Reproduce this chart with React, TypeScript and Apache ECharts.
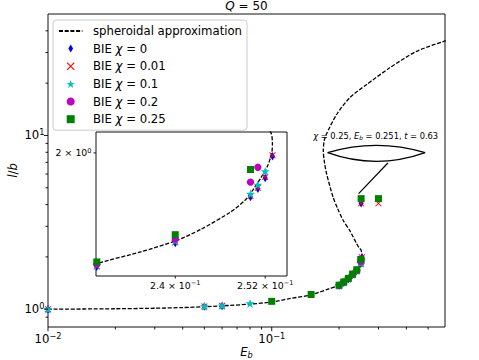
import React, { useEffect, useRef } from 'react';
import * as echarts from 'echarts';

const FONT = 'DejaVu Sans';

// spheroidal approximation: [E_b, l/b]
const spheroidalCurve: number[][] = [
  [0.01, 1.0], [0.02, 1.006], [0.03, 1.013], [0.04, 1.022], [0.05, 1.033], [0.06, 1.045],
  [0.08, 1.07], [0.1, 1.1], [0.12, 1.15], [0.15, 1.21], [0.18, 1.31], [0.2, 1.375],
  [0.215, 1.47], [0.2302, 1.59], [0.23564, 1.6286], [0.23998, 1.6646], [0.24335, 1.7057],
  [0.2473, 1.7683], [0.24929, 1.8131], [0.25036, 1.8533], [0.25144, 1.9002], [0.25238, 1.9504],
  [0.25292, 2.0043], [0.25299, 2.0423], [0.25279, 2.0853], [0.2505, 2.2], [0.246, 2.25],
  [0.239, 2.4], [0.2245, 2.8], [0.2085, 3.25], [0.197, 3.8], [0.188, 4.42], [0.1757, 6.05],
  [0.1715, 7.2], [0.17, 8.2], [0.1715, 9.3], [0.1757, 10.2], [0.195, 13.2], [0.2234, 16.5],
  [0.265, 19.6], [0.337, 24.5], [0.444, 30.5], [0.6, 35.1],
];

// BIE results: [E_b, l/b]
const bieChi0: number[][] = [
  [0.01, 1.0], [0.05, 1.035], [0.06, 1.045], [0.2, 1.365], [0.21, 1.42], [0.22, 1.49],
  [0.23, 1.578], [0.24, 1.658], [0.25, 1.825], [0.251, 1.856], [0.252, 1.898], [0.253, 1.986],
  [0.251, 4.07],
];
const bieChi001: number[][] = [
  [0.01, 1.0], [0.05, 1.037], [0.06, 1.047], [0.2, 1.368], [0.21, 1.425], [0.22, 1.495],
  [0.23, 1.58], [0.24, 1.66], [0.25, 1.828], [0.251, 1.86], [0.252, 1.902], [0.253, 1.99],
  [0.251, 4.07], [0.3, 4.07],
];
const bieChi01: number[][] = [
  [0.01, 1.0], [0.05, 1.04], [0.06, 1.05], [0.08, 1.08], [0.2, 1.37], [0.21, 1.43], [0.22, 1.5],
  [0.23, 1.583], [0.24, 1.665], [0.25, 1.837], [0.251, 1.872], [0.252, 1.925],
];
const bieChi02: number[][] = [
  [0.2, 1.372], [0.21, 1.432], [0.22, 1.502], [0.23, 1.586], [0.24, 1.672], [0.25, 1.882], [0.251, 1.941],
];
const bieChi025: number[][] = [
  [0.1, 1.11], [0.15, 1.215], [0.2, 1.375], [0.21, 1.435], [0.22, 1.505], [0.23, 1.594],
  [0.24, 1.687], [0.25, 1.932], [0.251, 4.33], [0.3, 4.33],
];

const curveName = 'spheroidal approximation';
const bieNames = ['BIE χ = 0', 'BIE χ = 0.01', 'BIE χ = 0.1', 'BIE χ = 0.2', 'BIE χ = 0.25'];

const xMajorTicks = [0.01, 0.1];
const xMinorTicks = [0.02, 0.03, 0.04, 0.05, 0.06, 0.07, 0.08, 0.09, 0.2, 0.3, 0.4, 0.5];
const yMajorTicks = [1, 10];
const yMinorTicks = [0.9, 2, 3, 4, 5, 6, 7, 8, 9, 20, 30, 40];
const insetXTicks = [0.24, 0.252];
const insetXTickLabels = ['2.4 × 10^−1', '2.52 × 10^−1'];
const insetYTicks = [2];
const insetYTickLabels = ['2 × 10^0'];

const annotatedPoint = [0.251, 4.33];
const annotationText = '{i|χ} = 0.25, {i|E}{sub|b} = 0.251, {i|t} = 0.63';
const titleText = '{i|Q} = 50';

const DIAMOND = 'path://M3,0L6,5L3,10L0,5Z';
const CROSS = 'path://M1,0L10,9L9,10L0,1ZM9,0L10,1L1,10L0,9Z';
const STAR =
  'path://M10,0L12.245,6.91L19.511,6.91L13.633,11.18L15.878,18.09L10,13.82L4.122,18.09L6.367,11.18L0.489,6.91L7.755,6.91Z';
const SQUARE = 'path://M0,0L10,0L10,10L0,10Z';

const bieStyles = [
  { symbol: DIAMOND, size: [5, 8.5], color: '#0000ff' },
  { symbol: CROSS, size: 6.5, color: '#ff0000' },
  { symbol: STAR, size: 9, color: '#00bfbf' },
  { symbol: 'circle', size: 7.3, color: '#bf00bf' },
  { symbol: SQUARE, size: 7, color: '#008000' },
];
const bieData = [bieChi0, bieChi001, bieChi01, bieChi02, bieChi025];

function rich(fs: number) {
  const lh = fs * 1.2;
  return {
    i: { fontFamily: FONT, fontSize: fs, fontStyle: 'italic', lineHeight: lh, color: '#000', fill: '#000' },
    s: { fontFamily: FONT, fontSize: fs * 0.7, lineHeight: fs * 0.79, verticalAlign: 'top', color: '#000', fill: '#000' },
    sub: {
      fontFamily: FONT, fontSize: fs * 0.7, lineHeight: fs * 0.61, verticalAlign: 'bottom',
      fontStyle: 'italic', color: '#000', fill: '#000',
    },
  };
}

const toRich = (s: string) => s.replace(/\^(\S+)/, '{s|$1}');

const powLabel = (v: number) => {
  const e = Math.log10(v);
  const r = Math.round(e);
  if (Math.abs(e - r) > 1e-6) return '';
  return '10{s|' + (r < 0 ? '−' + -r : String(r)) + '}';
};

function tickSeries(values: number[], dim: 'x' | 'y', len: number, axisIndex: number, labels?: string[], fs = 9.4) {
  return {
    type: 'custom',
    xAxisIndex: axisIndex,
    yAxisIndex: axisIndex,
    silent: true,
    clip: false,
    z: 10,
    data: values.map((v) => [v, v]),
    renderItem: (params: any, api: any) => {
      const cs = params.coordSys;
      const children: any[] = [];
      const textStyle = (text: string, align: string) => ({
        text: toRich(text), align, verticalAlign: 'middle', fontFamily: FONT, fontSize: fs,
        lineHeight: fs * 1.2, fill: '#000', rich: rich(fs),
      });
      if (dim === 'x') {
        const v = api.value(0);
        const x = api.coord([v, api.value(1)])[0];
        const y0 = cs.y + cs.height;
        children.push({ type: 'line', shape: { x1: x, y1: y0, x2: x, y2: y0 + len }, style: { stroke: '#000', lineWidth: 0.9 } });
        if (labels) children.push({ type: 'text', x, y: y0 + len + 7, style: textStyle(labels[params.dataIndex], 'center') });
      } else {
        const v = api.value(1);
        const y = api.coord([api.value(0), v])[1];
        const x0 = cs.x;
        children.push({ type: 'line', shape: { x1: x0 - len, y1: y, x2: x0, y2: y }, style: { stroke: '#000', lineWidth: 0.9 } });
        if (labels) children.push({ type: 'text', x: x0 - len - 2, y, style: textStyle(labels[params.dataIndex], 'right') });
      }
      return { type: 'group', children };
    },
  };
}

export default function App() {
  const ref = useRef<HTMLDivElement>(null);
  useEffect(() => {
    if (!ref.current) return;
    const chart = echarts.init(ref.current, undefined, { renderer: 'svg' });
    const axisLabelBase = {
      fontFamily: FONT, fontSize: 11.7, lineHeight: 14, color: '#000', rich: rich(11.7),
    };
    const hidden = {
      axisLine: { show: false }, axisTick: { show: false }, splitLine: { show: false }, minorTick: { show: false },
    };
    const mainScatter = bieData.map((d, k) => ({
      type: 'scatter', name: bieNames[k], xAxisIndex: 0, yAxisIndex: 0, data: d,
      symbol: bieStyles[k].symbol, symbolSize: bieStyles[k].size,
      itemStyle: { color: bieStyles[k].color, opacity: 1 },
      z: 3,
    }));
    const insetScatter = bieData.map((d, k) => ({
      type: 'scatter', name: bieNames[k] + ' (inset)', xAxisIndex: 1, yAxisIndex: 1, data: d,
      symbol: bieStyles[k].symbol, symbolSize: bieStyles[k].size,
      itemStyle: { color: bieStyles[k].color, opacity: 1 }, clip: true,
      z: 3,
    }));
    const lineStyle = { color: '#000', width: 1.3, type: [4, 1.7] };
    const option: any = {
      animation: false,
      backgroundColor: '#fff',
      title: {
        text: titleText, left: 246.5, top: -1, textAlign: 'center', padding: 0,
        textStyle: { fontFamily: FONT, fontSize: 12, fontWeight: 'normal', color: '#000', lineHeight: 14.4, rich: rich(12) },
      },
      legend: {
        data: [{ name: curveName, itemStyle: { opacity: 0 } }, ...bieNames],
        orient: 'vertical', left: 53, top: 20, padding: [4, 5, 4, 5], itemGap: 3.6,
        itemWidth: 23.4, itemHeight: 8,
        backgroundColor: 'rgba(255,255,255,0.8)', borderColor: '#cccccc', borderWidth: 1, borderRadius: 3,
        selectedMode: false, z: 20,
        formatter: (n: string) => n.replace('χ', '{i|χ}'),
        textStyle: { fontFamily: FONT, fontSize: 11.7, lineHeight: 14, color: '#000', padding: [0, 0, 0, 5.6], rich: rich(11.7) },
      },
      grid: [
        {
          left: 48, top: 14, width: 397, height: 313, show: true, borderColor: '#111', borderWidth: 1,
          backgroundColor: 'transparent', containLabel: false, outerBoundsMode: 'none',
        },
        {
          left: 96, top: 132, width: 191, height: 144, show: true, borderColor: '#111', borderWidth: 1,
          backgroundColor: '#fff', containLabel: false, outerBoundsMode: 'none',
        },
      ],
      xAxis: [
        {
          type: 'log', logBase: 10, gridIndex: 0, min: 0.01, max: 0.595, ...hidden,
          axisLabel: { ...axisLabelBase, formatter: powLabel, margin: 5 },
          name: '{i|E}{sub|b}', nameLocation: 'middle', nameGap: 17.5, nameMoveOverlap: false,
          nameTextStyle: { ...axisLabelBase },
        },
        {
          type: 'log', logBase: 10, gridIndex: 1, min: 0.2299, max: 0.255, ...hidden,
          axisLabel: { show: false },
        },
      ],
      yAxis: [
        {
          type: 'log', logBase: 10, gridIndex: 0, min: 0.79, max: 50, ...hidden,
          axisLabel: { ...axisLabelBase, formatter: powLabel, margin: 3.5 },
          name: '{i|l}/{i|b}', nameLocation: 'middle', nameRotate: 90, nameGap: 27.7, nameMoveOverlap: false,
          nameTextStyle: { ...axisLabelBase },
        },
        {
          type: 'log', logBase: 10, gridIndex: 1, min: 1.548, max: 2.089, ...hidden,
          axisLabel: { show: false },
        },
      ],
      series: [
        {
          type: 'line', name: curveName, xAxisIndex: 0, yAxisIndex: 0, data: spheroidalCurve,
          symbol: 'none', smooth: 0.25, lineStyle, itemStyle: { color: '#000' }, z: 2,
        },
        ...mainScatter,
        {
          type: 'line', name: curveName + ' (inset)', xAxisIndex: 1, yAxisIndex: 1, data: spheroidalCurve,
          symbol: 'none', smooth: 0.25, lineStyle, itemStyle: { color: '#000' }, clip: true, z: 2,
        },
        ...insetScatter,
        tickSeries(xMajorTicks, 'x', 4.2, 0),
        tickSeries(xMinorTicks, 'x', 2.5, 0),
        tickSeries(yMajorTicks, 'y', 4.2, 0),
        tickSeries(yMinorTicks, 'y', 2.5, 0),
        tickSeries(insetXTicks, 'x', 2.5, 1, insetXTickLabels),
        tickSeries(insetYTicks, 'y', 2.5, 1, insetYTickLabels),
        {
          type: 'custom', xAxisIndex: 0, yAxisIndex: 0, silent: true, clip: false, z: 6,
          data: [annotatedPoint],
          renderItem: (_params: any, api: any) => {
            const p = api.coord([api.value(0), api.value(1)]);
            const ls = { stroke: '#000', lineWidth: 1.2, fill: 'none' };
            return {
              type: 'group',
              children: [
                { type: 'line', shape: { x1: p[0] - 2.5, y1: p[1] - 5, x2: p[0] + 26.7, y2: p[1] - 35.6 }, style: ls },
                {
                  type: 'bezierCurve',
                  shape: { x1: p[0] - 33.5, y1: p[1] - 46, x2: p[0] + 64, y2: p[1] - 46, cpx1: p[0] + 15, cpy1: p[1] - 60.6 },
                  style: ls,
                },
                {
                  type: 'bezierCurve',
                  shape: { x1: p[0] - 33.5, y1: p[1] - 46, x2: p[0] + 64, y2: p[1] - 46, cpx1: p[0] + 15, cpy1: p[1] - 28.6 },
                  style: ls,
                },
                {
                  type: 'text', x: p[0] + 14.5, y: p[1] - 62.5,
                  style: {
                    text: annotationText, align: 'center', verticalAlign: 'middle', fontFamily: FONT,
                    fontSize: 8.3, lineHeight: 10, fill: '#000', rich: rich(8.3),
                  },
                },
              ],
            };
          },
        },
      ],
    };
    chart.setOption(option);
    return () => chart.dispose();
  }, []);
  return <div ref={ref} style={{ position: 'absolute', left: 0, top: 0, width: 479, height: 360 }} />;
}
